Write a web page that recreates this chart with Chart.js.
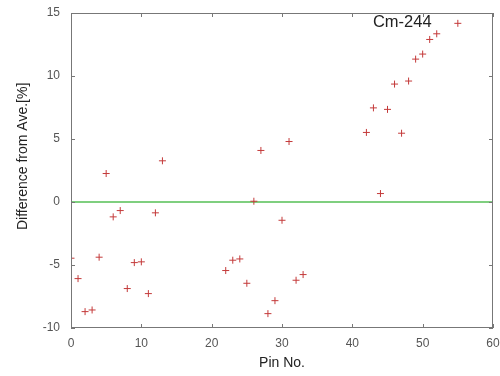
<!DOCTYPE html>
<html><head><meta charset="utf-8">
<script src="https://cdn.jsdelivr.net/npm/chart.js@4"></script>
<style>html,body{margin:0;padding:0;background:#fff}#wrap{width:500px;height:376px}</style>
</head><body><div id="wrap"><canvas id="c" width="500" height="376"></canvas></div>
<script>
const pins = [0,1,2,3,4,5,6,7,8,9,10,11,12,13,22,23,24,25,26,27,28,29,30,31,32,33,42,43,44,45,46,47,48,49,50,51,52,55];
const diffs = [-4.46,-6.08,-8.7,-8.57,-4.38,2.26,-1.18,-0.68,-6.87,-4.81,-4.75,-7.27,-0.86,3.27,-5.44,-4.62,-4.52,-6.45,0.06,4.09,-8.86,-7.83,-1.45,4.8,-6.21,-5.76,5.52,7.47,0.67,7.35,9.36,5.46,9.6,11.34,11.74,12.9,13.35,14.18];
const refLineX = [0,60];
const refLineY = [0,0];
const xTicks = [0,10,20,30,40,50,60];
const yTicks = [-10,-5,0,5,10,15];
const seriesLabel = "Cm-244";
const yTitle = "Difference from Ave.[%]";

const FONT = "'Liberation Sans', Arial, sans-serif";

const framePlugin = {
  id: 'frame',
  afterDraw(chart) {
    const {ctx, chartArea: a, scales} = chart;
    ctx.save();
    ctx.strokeStyle = '#777';
    ctx.lineWidth = 1;
    ctx.strokeRect(a.left + 0.5, a.top + 0.5, a.right - a.left - 1, a.bottom - a.top - 1);
    const L = 4;
    ctx.beginPath();
    xTicks.forEach(v => {
      const px = Math.round(scales.x.getPixelForValue(v)) + 0.5;
      ctx.moveTo(px, a.bottom); ctx.lineTo(px, a.bottom - L);
      ctx.moveTo(px, a.top); ctx.lineTo(px, a.top + L);
    });
    yTicks.forEach(v => {
      const py = Math.round(scales.y.getPixelForValue(v)) + 0.5;
      ctx.moveTo(a.left, py); ctx.lineTo(a.left + L, py);
      ctx.moveTo(a.right, py); ctx.lineTo(a.right - L, py);
    });
    ctx.stroke();
    ctx.fillStyle = '#222';
    ctx.font = '16.5px ' + FONT;
    ctx.textAlign = 'center';
    ctx.textBaseline = 'alphabetic';
    ctx.fillText(seriesLabel, a.left + (a.right - a.left) * 0.785, a.top + 14);
    // y axis title
    ctx.font = '14px ' + FONT;
    ctx.translate(23, a.top + (a.bottom - a.top) * 0.455);
    ctx.rotate(-Math.PI / 2);
    ctx.textBaseline = 'middle';
    ctx.fillText(yTitle, 0, 0);
    ctx.restore();
  }
};

new Chart(document.getElementById('c'), {
  type: 'scatter',
  data: {
    datasets: [
      {
        label: 'zero',
        type: 'line',
        data: refLineX.map((x, i) => ({x, y: refLineY[i]})),
        borderColor: '#7fcf7f',
        borderWidth: 2,
        pointRadius: 0,
        fill: false,
        order: 2
      },
      {
        label: seriesLabel,
        data: pins.map((x, i) => ({x, y: diffs[i]})),
        pointStyle: 'cross',
        pointRadius: 3.5,
        pointBorderWidth: 1,
        borderColor: '#c43a3a',
        backgroundColor: '#c43a3a',
        order: 1
      }
    ]
  },
  options: {
    responsive: false,
    animation: false,
    devicePixelRatio: 1,
    layout: {padding: {left: 0, right: 7, top: 13, bottom: 0}},
    plugins: {legend: {display: false}, tooltip: {enabled: false}},
    scales: {
      x: {
        type: 'linear', min: 0, max: 60,
        afterBuildTicks(s) { s.ticks = xTicks.map(v => ({value: v})); },
        afterFit(s) { s.height = 48; s.paddingLeft = 0; s.paddingRight = 0; },
        grid: {display: false, drawTicks: false},
        border: {display: false},
        ticks: {color: '#555', font: {size: 12, family: FONT}, padding: 8, maxRotation: 0},
        title: {display: true, text: 'Pin No.', color: '#222', font: {size: 14, family: FONT}, padding: {top: 2}}
      },
      y: {
        type: 'linear', min: -10, max: 15,
        afterBuildTicks(s) { s.ticks = yTicks.map(v => ({value: v})); },
        afterFit(s) { s.width = 71; s.paddingTop = 0; s.paddingBottom = 0; },
        grid: {display: false, drawTicks: false},
        border: {display: false},
        ticks: {color: '#555', font: {size: 12, family: FONT}, padding: 11},
        title: {display: false}
      }
    }
  },
  plugins: [framePlugin]
});
</script></body></html>
